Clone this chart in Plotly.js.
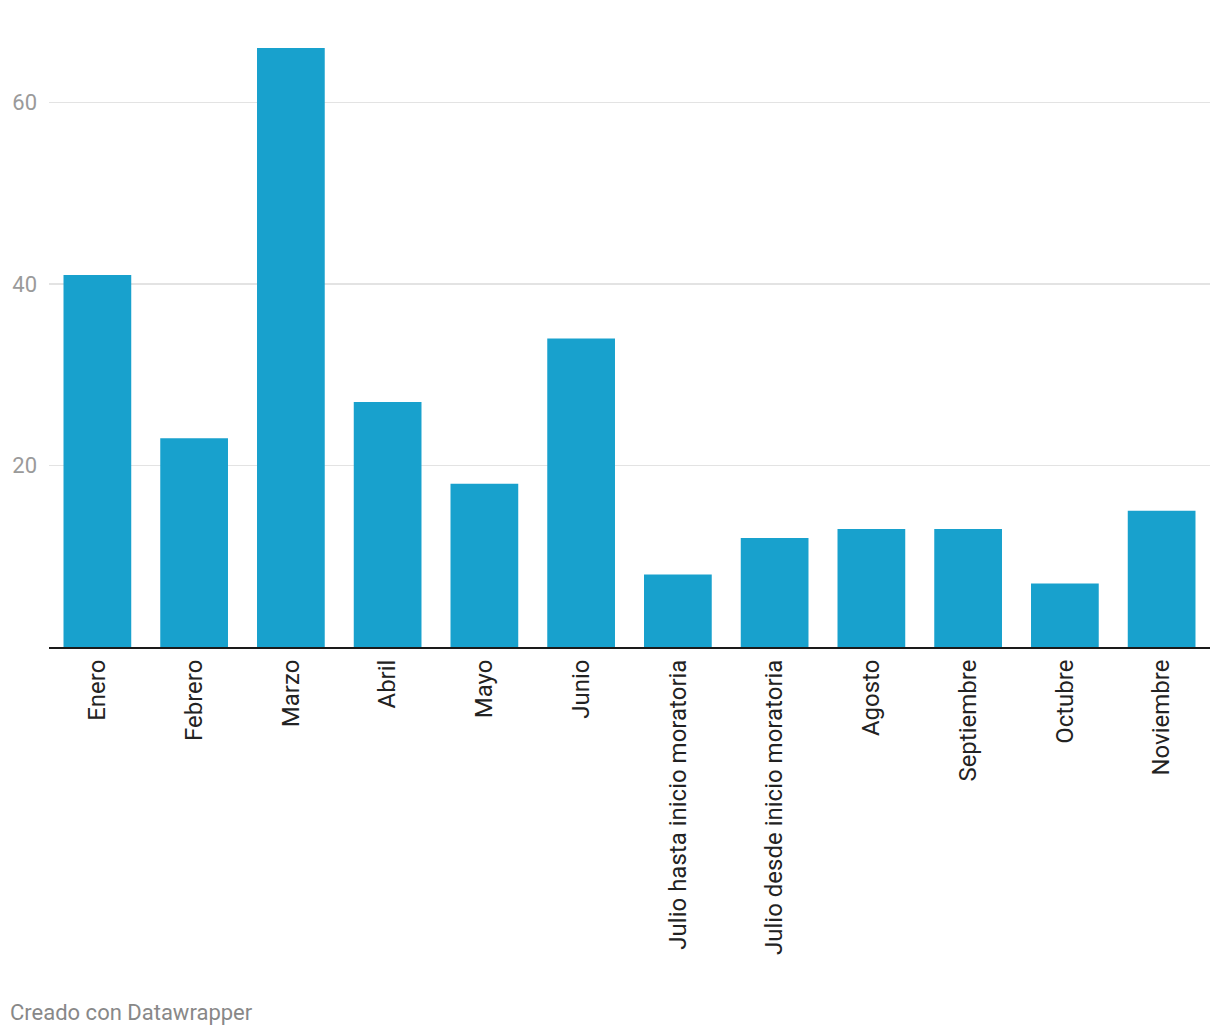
<!DOCTYPE html>
<html>
<head>
<meta charset="utf-8">
<script src="https://cdn.plot.ly/plotly-3.0.1.min.js"></script>
<style>
  html, body { margin: 0; padding: 0; background: #fff; }
  #chart { width: 1220px; height: 1036px; }
</style>
</head>
<body>
<div id="chart"></div>
<script>
const categories = [
  "Enero", "Febrero", "Marzo", "Abril", "Mayo", "Junio",
  "Julio hasta inicio moratoria", "Julio desde inicio moratoria",
  "Agosto", "Septiembre", "Octubre", "Noviembre"
];
const values = [41, 23, 66, 27, 18, 34, 8, 12, 13, 13, 7, 15];
const yTickVals = [20, 40, 60];
const yTickText = ["20", "40", "60"];

const trace = {
  type: "bar",
  x: categories,
  y: values,
  marker: { color: "#18a1cd" },
  hoverinfo: "x+y"
};

const layout = {
  width: 1220,
  height: 1036,
  margin: { l: 49, r: 10, t: 48, b: 389 },
  paper_bgcolor: "#ffffff",
  plot_bgcolor: "#ffffff",
  bargap: 0.3,
  showlegend: false,
  font: { family: "Roboto, sans-serif" },
  xaxis: {
    type: "category",
    tickangle: -90,
    tickfont: { family: "Roboto, sans-serif", size: 24, color: "#222222" },
    showgrid: false,
    showline: true,
    linecolor: "#1a1a1a",
    linewidth: 2,
    ticks: "",
    ticklabelstandoff: 1,
    fixedrange: true
  },
  yaxis: {
    range: [0, 66],
    tickvals: yTickVals,
    ticktext: yTickText,
    tickfont: { family: "Roboto, sans-serif", size: 22, color: "#9a9a9a" },
    showgrid: true,
    gridcolor: "#e3e3e3",
    gridwidth: 1.5,
    zeroline: false,
    showline: false,
    ticks: "",
    ticklabelstandoff: 11,
    fixedrange: true
  },
  annotations: [{
    text: "Creado con Datawrapper",
    xref: "paper", yref: "paper",
    x: 0, y: 0,
    xanchor: "left", yanchor: "middle",
    xshift: -41, yshift: -365,
    showarrow: false,
    font: { family: "Roboto, sans-serif", size: 22, color: "#888888" }
  }]
};

Plotly.newPlot("chart", [trace], layout, { displayModeBar: false, staticPlot: true });
</script>
</body>
</html>
